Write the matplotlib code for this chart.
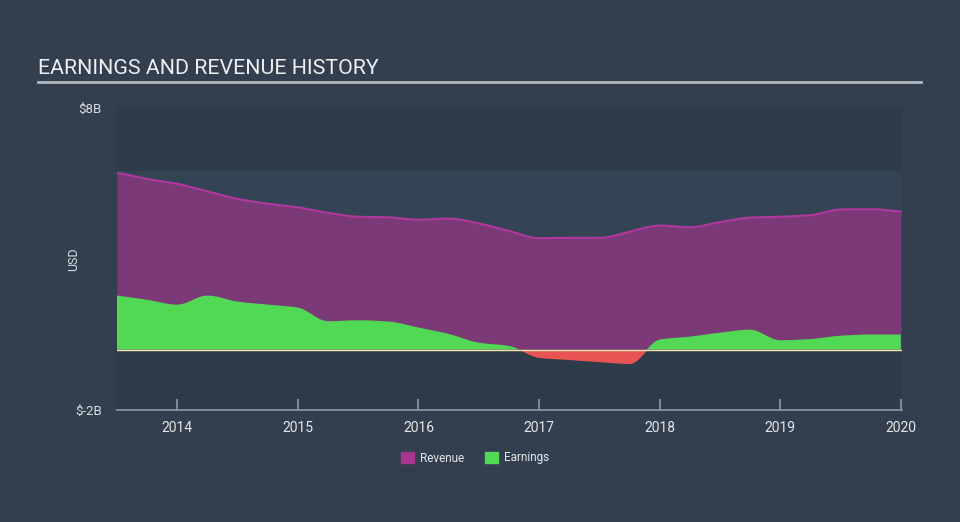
import numpy as np
import matplotlib
matplotlib.use("Agg")
import matplotlib.pyplot as plt
from matplotlib.patches import Patch

# ---- data (USD billions), quarterly from mid-2013 to 2020 ----
dates = [2013.5, 2013.75, 2014.0, 2014.25, 2014.5, 2014.75, 2015.0, 2015.25, 2015.5,
         2015.75, 2016.0, 2016.25, 2016.5, 2016.75, 2017.0, 2017.25, 2017.5, 2017.75,
         2018.0, 2018.25, 2018.5, 2018.75, 2019.0, 2019.25, 2019.5, 2019.75, 2020.0]
revenue = [5.86, 5.65, 5.49, 5.24, 4.99, 4.83, 4.71, 4.53, 4.40,
           4.38, 4.30, 4.34, 4.18, 3.93, 3.69, 3.70, 3.70, 3.90,
           4.11, 4.05, 4.22, 4.37, 4.40, 4.45, 4.64, 4.65, 4.57]
earnings = [1.79, 1.65, 1.49, 1.79, 1.59, 1.49, 1.39, 0.94, 0.97,
            0.93, 0.73, 0.52, 0.23, 0.12, -0.26, -0.33, -0.40, -0.46,
            0.33, 0.43, 0.56, 0.66, 0.31, 0.35, 0.46, 0.50, 0.50]
year_ticks = [2014, 2015, 2016, 2017, 2018, 2019, 2020]
y_ticks = [8, -2]
y_tick_labels = ["$8B", "$-2B"]


def monotone(x, y, n=600):
    x = np.asarray(x, float); y = np.asarray(y, float)
    h = np.diff(x); d = np.diff(y) / h
    m = np.zeros_like(y)
    m[0] = d[0]; m[-1] = d[-1]
    for i in range(1, len(y) - 1):
        if d[i - 1] * d[i] <= 0:
            m[i] = 0
        else:
            w1 = 2 * h[i] + h[i - 1]; w2 = h[i] + 2 * h[i - 1]
            m[i] = (w1 + w2) / (w1 / d[i - 1] + w2 / d[i])
    xs = np.linspace(x[0], x[-1], n)
    idx = np.clip(np.searchsorted(x, xs) - 1, 0, len(x) - 2)
    t = (xs - x[idx]) / h[idx]
    h00 = 2 * t**3 - 3 * t**2 + 1; h10 = t**3 - 2 * t**2 + t
    h01 = -2 * t**3 + 3 * t**2; h11 = t**3 - t**2
    ys = h00 * y[idx] + h10 * h[idx] * m[idx] + h01 * y[idx + 1] + h11 * h[idx] * m[idx + 1]
    return xs, ys


xr, yr = monotone(dates, revenue)
xe, ye = monotone(dates, earnings)

BG = "#333f4f"
fig = plt.figure(figsize=(9.6, 5.22), dpi=100, facecolor=BG)
ax = fig.add_axes([117 / 960, 1 - 410 / 522, 785 / 960, 302 / 522])
ax.set_facecolor("#2e3b4b")
ax.set_xlim(2013.5, 2020.01)
ax.set_ylim(-2, 8)

# lighter band between zero and data max
ax.axhspan(0, max(revenue) + 0.05, color="#344454", zorder=0, lw=0)

ax.fill_between(xr, 0, yr, color="#7b3a77", lw=0, zorder=2)
ax.plot(xr, yr, color="#b0389f", lw=1.5, zorder=3)
ax.fill_between(xe, 0, ye, where=ye >= 0, interpolate=True, color="#51d955", lw=0, zorder=4)
ax.fill_between(xe, 0, ye, where=ye <= 0, interpolate=True, color="#e85454", lw=0, zorder=4)
ax.axhline(0, color="#f2e3a8", lw=1.0, zorder=5)

for s in ["top", "right", "left"]:
    ax.spines[s].set_visible(False)
ax.spines["bottom"].set_color("#8e99a6")
ax.spines["bottom"].set_linewidth(1.2)

ax.set_xticks(year_ticks)
ax.set_xticklabels([str(y) for y in year_ticks])
ax.tick_params(axis="x", direction="in", length=8, width=1.2, color="#8e99a6",
               labelcolor="#e4e7ea", labelsize=10, pad=8)
ax.set_yticks(y_ticks)
ax.set_yticklabels(y_tick_labels)
ax.tick_params(axis="y", length=0, labelcolor="#d9dde1", labelsize=9.5, pad=11)
for lab in ax.get_xticklabels() + ax.get_yticklabels():
    lab.set_fontfamily("Roboto")
ax.set_ylabel("USD", color="#d9dde1", fontsize=9, fontfamily="Roboto")
ax.yaxis.set_label_coords((80 - 117) / 785, 0.5)

fig.text(38 / 960, 1 - 68 / 522, "EARNINGS AND REVENUE HISTORY", color="#eef0f2",
         fontsize=15.4, fontfamily="Roboto", va="center", ha="left")
fig.add_artist(plt.Line2D([38 / 960, 921 / 960], [1 - 82 / 522, 1 - 82 / 522],
                          color="#b4b9bf", lw=2))

handles = [Patch(color="#a8358f"), Patch(color="#51d955")]
fig.legend(handles, ["Revenue", "Earnings"], loc="center", bbox_to_anchor=(475 / 960, 1 - 458 / 522),
           ncol=2, frameon=False, labelcolor="#e4e7ea", handlelength=1.1, handleheight=1.0,
           handletextpad=0.5, columnspacing=1.8, prop={"family": "Roboto", "size": 8.5})

fig.savefig("out.png", dpi=100, facecolor=BG)
